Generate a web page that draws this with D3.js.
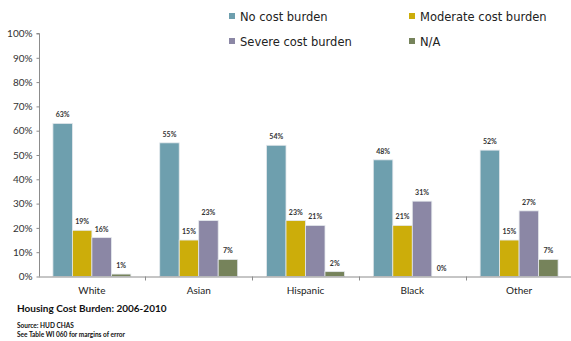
<!DOCTYPE html>
<html>
<head>
<meta charset="utf-8">
<script src="https://cdn.jsdelivr.net/npm/d3@7/dist/d3.min.js"></script>
<style>
  html, body { margin: 0; padding: 0; background: #fff; }
  svg { display: block; }
  text { font-family: "Lato", "Open Sans", sans-serif; }
</style>
</head>
<body>
<svg id="chart" width="571" height="341"></svg>
<script>
// Housing cost burden by race/ethnicity, 2006-2010
const categories = ["White", "Asian", "Hispanic", "Black", "Other"];
const seriesNames = ["No cost burden", "Moderate cost burden", "Severe cost burden", "N/A"];
const noBurden = [63, 55, 54, 48, 52];
const moderateBurden = [19, 15, 23, 21, 15];
const severeBurden = [16, 23, 21, 31, 27];
const notAvailable = [1, 7, 2, 0, 7];
const yTicks = [0, 10, 20, 30, 40, 50, 60, 70, 80, 90, 100];
const colors = ["#6e9fae", "#ccad0a", "#8b87a5", "#76835b"];

const seriesValues = [noBurden, moderateBurden, severeBurden, notAvailable];

const svg = d3.select("#chart");

const y = d3.scaleLinear().domain([0, 100]).range([276.5, 33.5]);
const x0 = d3.scaleBand().domain(categories).range([38.5, 572.5]).paddingInner(0).paddingOuter(0);
const x1 = d3.scaleBand().domain(seriesNames).range([0, x0.bandwidth()]).paddingOuter(0.74).paddingInner(0);

// y axis
const yAxis = d3.axisLeft(y).tickValues(yTicks).tickFormat(d => d + "%").tickSize(3).tickPadding(4);
const gy = svg.append("g").attr("transform", "translate(39.5,0)").call(yAxis);
gy.select(".domain").attr("stroke", "#8c8c8c").attr("d", `M-3,${y(100)}H0V${y(0)}`);
gy.selectAll(".tick line").attr("stroke", "#8c8c8c");
gy.selectAll(".tick text").attr("fill", "#333").style("font-size", "10px").style("font-family", "Lato, sans-serif");

// bars
const groups = svg.append("g").selectAll("g")
  .data(categories)
  .join("g")
  .attr("transform", d => `translate(${x0(d)},0)`);

groups.selectAll("rect")
  .data((c, i) => seriesNames.map((s, k) => ({ s, k, v: seriesValues[k][i] })))
  .join("rect")
  .attr("x", d => x1(d.s))
  .attr("y", d => y(d.v))
  .attr("width", x1.bandwidth())
  .attr("height", d => y(0) - y(d.v))
  .attr("fill", d => colors[d.k])
  .attr("stroke", "#e4e8ec")
  .attr("stroke-width", 0.8);

groups.selectAll("text.val")
  .data((c, i) => seriesNames.map((s, k) => ({ s, k, v: seriesValues[k][i] })))
  .join("text")
  .attr("class", "val")
  .attr("x", d => x1(d.s) + x1.bandwidth() / 2)
  .attr("y", d => y(d.v) - 6)
  .attr("text-anchor", "middle")
  .attr("fill", "#333")
  .style("font-size", "7px")
  .style("font-weight", "bold")
  .text(d => d.v + "%");

// x axis
const xAxis = d3.axisBottom(x0).tickSize(0).tickPadding(10);
const gx = svg.append("g").attr("transform", `translate(0,${y(0)})`).call(xAxis);
gx.select(".domain").attr("stroke", "#8c8c8c");
gx.selectAll(".tick text").attr("fill", "#222").style("font-size", "10px").style("font-family", "Lato, sans-serif");
// separators between categories
svg.append("g").selectAll("line")
  .data(categories.slice(1))
  .join("line")
  .attr("x1", d => Math.round(x0(d)) + 0.5)
  .attr("x2", d => Math.round(x0(d)) + 0.5)
  .attr("y1", y(0))
  .attr("y2", y(0) + 4)
  .attr("stroke", "#8c8c8c");

// legend
const legendPos = [[229, 13], [409, 13], [229, 38], [409, 38]];
const legend = svg.append("g").selectAll("g")
  .data(seriesNames)
  .join("g")
  .attr("transform", (d, i) => `translate(${legendPos[i][0]},${legendPos[i][1]})`);
legend.append("rect").attr("width", 6).attr("height", 6).attr("fill", (d, i) => colors[i]);
legend.append("text")
  .attr("x", 11)
  .attr("y", 8)
  .attr("fill", "#222")
  .style("font-family", "'DejaVu Sans', sans-serif")
  .style("font-size", "11.5px")
  .text(d => d);

// titles
svg.append("text").attr("x", 17).attr("y", 312)
  .attr("fill", "#111").style("font-size", "10px").style("font-weight", "bold")
  .text("Housing Cost Burden: 2006-2010");
svg.append("text").attr("x", 17).attr("y", 328)
  .attr("fill", "#111").style("font-size", "6.5px").style("font-weight", "bold")
  .text("Source: HUD CHAS");
svg.append("text").attr("x", 17).attr("y", 337)
  .attr("fill", "#111").style("font-size", "6.5px").style("font-weight", "bold")
  .text("See Table WI 060 for margins of error");
</script>
</body>
</html>
